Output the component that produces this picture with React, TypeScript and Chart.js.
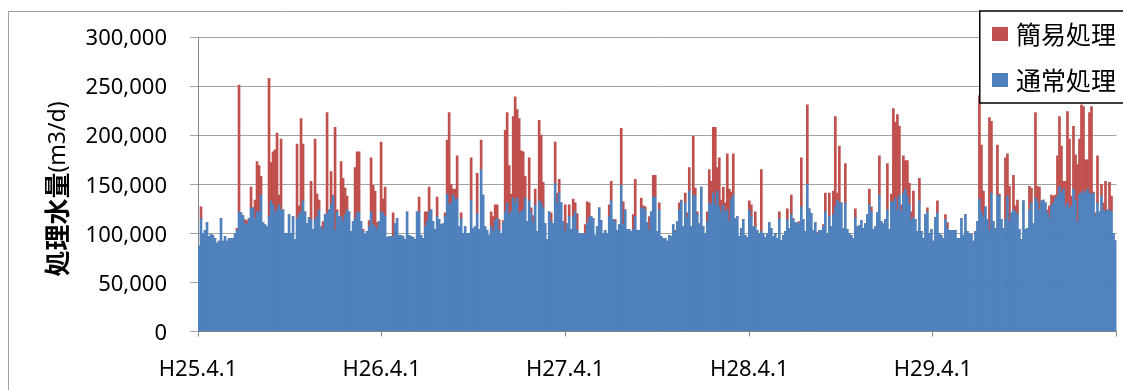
import { useEffect, useRef } from "react";
import { Chart, registerables } from "chart.js";

Chart.register(...registerables);

// Daily treated flow, grouped into consecutive ~4-day periods from H25.4.1 to H30.3.31 (thousand m3/d)
const normalK = [
  87, 115, 100, 103, 111, 97, 99, 98, 95, 90, 92, 115, 92, 97, 92, 95, 95, 95, 100, 103,
  122, 121, 118, 110, 109, 115, 126, 126, 115, 122, 122, 139, 111, 109, 107, 117, 133, 129, 121, 124,
  129, 124, 124, 100, 100, 119, 100, 117, 94, 115, 119, 122, 133, 122, 110, 116, 114, 104, 114, 117,
  124, 107, 104, 119, 120, 124, 129, 138, 103, 122, 117, 117, 112, 119, 124, 122,
  102, 112, 115, 121, 122, 112, 102, 99, 102, 107, 122, 109, 107, 104, 112, 122, 121, 117, 96, 97,
  97, 97, 110, 115, 98, 98, 97, 94, 122, 98, 97, 96, 94, 122, 122, 98, 95, 107, 112, 122,
  124, 112, 104, 117, 114, 109, 110, 117, 140, 129, 131, 139, 135, 135, 107, 115, 100, 107, 100, 100,
  134, 105, 107, 120, 104, 165, 139, 107, 103, 98, 107, 102, 113, 115, 103,
  100, 111, 122, 131, 119, 122, 136, 131, 136, 121, 122, 124, 136, 112, 133, 121, 111, 129, 102, 133,
  131, 126, 110, 94, 122, 112, 110, 151, 131, 141, 131, 112, 102, 110, 117, 104, 117, 122, 103, 100,
  100, 100, 100, 110, 116, 117, 115, 98, 107, 126, 113, 100, 103, 100, 117, 133, 114, 112, 103, 109,
  149, 109, 124, 104, 104, 102, 104, 117, 103, 103, 126, 126, 124, 111, 103, 122, 137,
  137, 102, 124, 97, 95, 95, 92, 98, 97, 109, 102, 112, 124, 133, 107, 131, 116, 143, 107, 139,
  138, 119, 110, 147, 107, 100, 112, 131, 129, 141, 129, 143, 127, 122, 129, 122, 124, 112, 135, 139,
  115, 117, 97, 105, 114, 98, 96, 124, 117, 107, 107, 103, 100, 102, 100, 96, 100, 111, 105, 97,
  100, 95, 115, 93, 98, 102, 114, 105, 119, 114, 111, 111, 110, 127, 114, 102, 150, 125,
  120, 103, 111, 100, 103, 103, 107, 122, 100, 117, 107, 119, 127, 134, 131, 131, 105, 131, 104, 100,
  98, 95, 116, 107, 108, 113, 105, 110, 119, 129, 122, 104, 107, 121, 139, 112, 110, 114, 124, 104,
  132, 132, 136, 124, 139, 122, 141, 145, 138, 129, 114, 116, 114, 102, 133, 102, 95, 119, 122, 100,
  104, 92, 116, 121, 100, 98, 95, 114, 105, 103, 103, 103, 103, 95, 95, 115, 98,
  119, 102, 100, 99, 92, 102, 112, 135, 122, 117, 127, 114, 103, 141, 112, 105, 139, 138, 114, 105,
  114, 138, 112, 121, 124, 122, 119, 104, 94, 133, 104, 105, 124, 131, 110, 136, 132, 124, 133, 134,
  131, 121, 116, 128, 131, 136, 138, 148, 141, 145, 127, 131, 126, 128, 145, 134, 112, 140, 141, 143,
  141, 145, 141, 140, 141, 119, 131, 122, 138, 124, 122, 124, 124, 122, 100, 93,
];

const simpleK = [
  0, 12, 0, 0, 0, 0, 0, 0, 0, 0, 0, 0, 0, 0, 0, 0, 0, 0, 0, 2,
  129, 0, 0, 4, 4, 0, 21, 0, 19, 51, 47, 19, 0, 0, 0, 141, 39, 54, 64, 78,
  10, 72, 0, 0, 0, 0, 0, 0, 0, 76, 9, 95, 58, 0, 0, 0, 39, 0, 82, 23,
  10, 0, 8, 0, 103, 0, 34, 1, 105, 2, 0, 56, 44, 27, 14, 0,
  0, 0, 52, 62, 61, 0, 2, 0, 0, 6, 55, 40, 36, 7, 0, 71, 14, 30, 0, 0,
  0, 24, 0, 0, 0, 0, 0, 0, 0, 0, 0, 0, 0, 0, 15, 0, 0, 15, 10, 25,
  0, 0, 0, 20, 0, 0, 0, 4, 55, 94, 19, 6, 10, 44, 0, 6, 0, 0, 0, 0,
  43, 0, 0, 41, 0, 30, 0, 0, 0, 0, 15, 15, 16, 14, 11,
  0, 2, 83, 92, 50, 18, 83, 108, 90, 96, 62, 59, 22, 0, 44, 5, 7, 16, 0, 82,
  69, 26, 0, 0, 0, 9, 0, 42, 10, 14, 0, 0, 27, 0, 12, 0, 18, 9, 17, 0,
  0, 0, 9, 22, 15, 0, 0, 0, 0, 0, 0, 0, 0, 0, 12, 20, 0, 2, 0, 0,
  58, 23, 0, 0, 0, 0, 15, 38, 0, 0, 10, 2, 3, 0, 14, 0, 22,
  22, 0, 7, 0, 0, 0, 0, 0, 0, 0, 1, 0, 7, 1, 0, 10, 5, 24, 0, 60,
  8, 3, 0, 0, 0, 0, 10, 34, 24, 67, 79, 24, 50, 12, 18, 9, 57, 33, 7, 42,
  0, 0, 0, 0, 0, 0, 0, 9, 12, 0, 15, 0, 0, 63, 0, 0, 0, 0, 0, 0,
  0, 0, 7, 0, 0, 0, 11, 0, 20, 1, 0, 0, 2, 50, 0, 0, 81, 0,
  0, 0, 0, 1, 0, 0, 2, 19, 0, 24, 0, 24, 92, 7, 58, 0, 0, 40, 0, 0,
  0, 0, 9, 0, 0, 0, 0, 0, 0, 16, 5, 0, 0, 0, 40, 0, 0, 0, 47, 0,
  8, 95, 77, 97, 70, 7, 38, 29, 36, 22, 8, 27, 0, 0, 23, 0, 0, 0, 4, 0,
  0, 0, 0, 12, 0, 0, 0, 5, 6, 0, 0, 0, 0, 0, 0, 0, 0,
  0, 0, 0, 0, 0, 0, 0, 105, 68, 26, 0, 0, 115, 73, 0, 0, 51, 2, 0, 0,
  63, 43, 36, 0, 35, 6, 15, 0, 0, 0, 0, 0, 24, 15, 0, 87, 16, 23, 0, 0,
  0, 3, 12, 11, 7, 3, 41, 71, 48, 8, 26, 93, 70, 10, 64, 46, 58, 56, 90, 86,
  34, 30, 82, 89, 1, 2, 48, 0, 12, 7, 31, 0, 28, 16, 0, 0,
];

const totalDays = 1826;
const yearTickDays = [0, 365, 730, 1096, 1461, 1826];
const yearTickLabels = ["H25.4.1", "H26.4.1", "H27.4.1", "H28.4.1", "H29.4.1", ""];
const seriesNames = ["通常処理", "簡易処理"];
const seriesColors = ["#4F81BD", "#C0504D"];
const axisTitleMain = "処理水量";
const axisTitleUnit = "(m3/d)";

const W = 1123;
const H = 390;
const latinFont = '"Noto Sans", "Noto Sans CJK JP", sans-serif';
const cjkFont = '"Noto Sans CJK JP", sans-serif';

const decorations = {
  id: "decorations",
  beforeDraw(chart: any) {
    const ctx = chart.ctx;
    ctx.save();
    ctx.fillStyle = "#ffffff";
    ctx.fillRect(0, 0, W, H);
    ctx.strokeStyle = "#a0a0a0";
    ctx.lineWidth = 1;
    ctx.beginPath();
    ctx.moveTo(8.5, H);
    ctx.lineTo(8.5, 11.5);
    ctx.lineTo(W, 11.5);
    ctx.stroke();
    ctx.restore();
  },
  afterDraw(chart: any) {
    const ctx = chart.ctx;
    ctx.save();
    // vertical axis title: bold Japanese part followed by the unit
    ctx.font = `700 26px ${cjkFont}`;
    const w1 = ctx.measureText(axisTitleMain).width;
    ctx.font = `23px ${latinFont}`;
    const w2 = ctx.measureText(axisTitleUnit).width;
    ctx.translate(57, 189);
    ctx.rotate(-Math.PI / 2);
    ctx.fillStyle = "#000";
    ctx.textBaseline = "middle";
    ctx.textAlign = "left";
    ctx.font = `700 26px ${cjkFont}`;
    ctx.fillText(axisTitleMain, -(w1 + w2) / 2, 0);
    ctx.font = `23px ${latinFont}`;
    ctx.fillText(axisTitleUnit, -(w1 + w2) / 2 + w1, 1);
    ctx.restore();

    // legend box in the upper right corner
    ctx.save();
    ctx.fillStyle = "#ffffff";
    ctx.fillRect(979, 11, 160, 92);
    ctx.strokeStyle = "#000";
    ctx.lineWidth = 1.5;
    ctx.strokeRect(979.75, 11, 170, 92);
    const items = [
      { name: seriesNames[1], color: seriesColors[1], y: 34 },
      { name: seriesNames[0], color: seriesColors[0], y: 80 },
    ];
    ctx.font = `25px ${cjkFont}`;
    ctx.textBaseline = "middle";
    ctx.textAlign = "left";
    for (const it of items) {
      ctx.fillStyle = it.color;
      ctx.fillRect(992, it.y - 7, 16, 14);
      ctx.fillStyle = "#000";
      ctx.fillText(it.name, 1016, it.y);
    }
    ctx.restore();
  },
};

export default function App() {
  const canvasRef = useRef<HTMLCanvasElement | null>(null);

  useEffect(() => {
    const canvas = canvasRef.current;
    if (!canvas) return;
    const periodDays = totalDays / normalK.length;
    const toPoints = (arr: number[]) =>
      arr.map((v, i) => ({ x: (i + 0.5) * periodDays, y: v * 1000 }));

    const chart = new Chart(canvas, {
      type: "bar",
      data: {
        datasets: [
          {
            label: seriesNames[0],
            data: toPoints(normalK),
            backgroundColor: seriesColors[0],
            borderWidth: 0,
            barPercentage: 1,
            categoryPercentage: 1,
          },
          {
            label: seriesNames[1],
            data: toPoints(simpleK),
            backgroundColor: seriesColors[1],
            borderWidth: 0,
            barPercentage: 1,
            categoryPercentage: 1,
          },
        ],
      },
      options: {
        responsive: false,
        animation: false,
        devicePixelRatio: 1,
        layout: { padding: { top: 37, right: 6.5, left: 0, bottom: 0 } },
        plugins: {
          legend: { display: false },
          tooltip: { enabled: false },
        },
        scales: {
          x: {
            type: "linear",
            min: 0,
            max: totalDays,
            stacked: true,
            offset: false,
            grid: {
              offset: false,
              drawOnChartArea: false,
              drawTicks: true,
              tickLength: 5,
              color: "#868686",
            },
            border: { color: "#868686", width: 1 },
            ticks: {
              autoSkip: false,
              maxRotation: 0,
              padding: 20,
              color: "#000",
              font: { family: latinFont, size: 22 },
              callback: (value: any) => {
                const idx = yearTickDays.indexOf(Number(value));
                return idx >= 0 ? yearTickLabels[idx] : "";
              },
            },
            afterBuildTicks: (scale: any) => {
              scale.ticks = yearTickDays.map((v) => ({ value: v }));
            },
            afterFit: (scale: any) => {
              scale.height = H - 331.5;
              scale.paddingLeft = 0;
              scale.paddingRight = 0;
            },
          },
          y: {
            min: 0,
            max: 300000,
            stacked: true,
            grid: { color: "#a3a3a3", drawTicks: true, tickLength: 8, lineWidth: 1 },
            border: { color: "#868686", width: 1 },
            ticks: {
              stepSize: 50000,
              padding: 23,
              labelOffset: 2,
              color: "#000",
              font: { family: latinFont, size: 22 },
              callback: (value: any) => Number(value).toLocaleString("en-US"),
            },
            afterFit: (scale: any) => {
              scale.width = 198;
            },
          },
        },
      },
      plugins: [decorations],
    });

    return () => chart.destroy();
  }, []);

  return (
    <div style={{ position: "absolute", left: 0, top: 0, width: W, height: H }}>
      <canvas ref={canvasRef} width={W} height={H} style={{ width: W, height: H, display: "block" }} />
    </div>
  );
}
